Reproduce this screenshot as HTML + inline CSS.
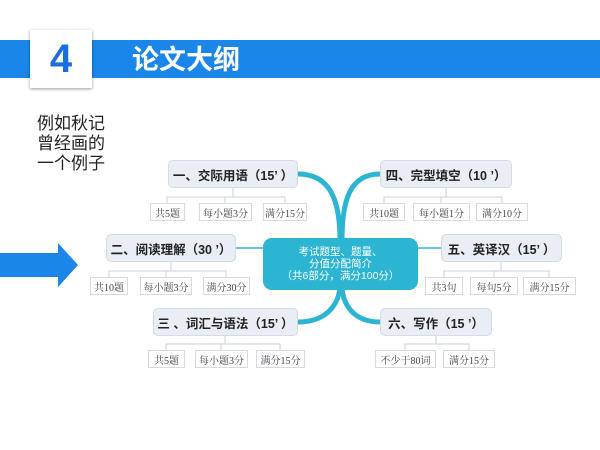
<!DOCTYPE html>
<html><head><meta charset="utf-8"><style>
body{margin:0;width:600px;height:450px;background:#fff;position:relative;overflow:hidden;font-family:"Liberation Sans","Noto Sans CJK SC",sans-serif}
.a{position:absolute}
.n{position:absolute;background:#e9eef4;border:1px solid #d3dbe5;border-radius:5px;box-sizing:border-box;display:flex;align-items:center;justify-content:center;font-weight:bold;font-size:12.5px;color:#222}
.s{position:absolute;background:#fff;border:1px solid #d5dbe2;box-sizing:border-box;display:flex;align-items:center;justify-content:center;font-size:10px;color:#444;font-family:"Liberation Serif","Noto Serif CJK SC",serif;height:18px}
</style></head><body>
<div class="a" style="left:0;top:40px;width:600px;height:38px;background:#1a86e9"></div>
<div class="a" style="left:30px;top:30px;width:62px;height:58px;background:#fff;box-shadow:0 1px 3px rgba(0,0,0,.4);display:flex;align-items:center;justify-content:center;font-size:40px;font-weight:bold;color:#1a6fe0">4</div>
<div class="a" style="left:132px;top:43px;font-size:27px;font-weight:bold;color:#fff;line-height:34px">论文大纲</div>
<div class="a" style="left:37px;top:114px;font-size:17px;line-height:20px;color:#222">例如秋记<br>曾经画的<br>一个例子</div>
<svg class="a" style="left:0;top:0" width="600" height="450">
<polygon points="0,253 58,253 58,243 78,265 58,287 58,277 0,277" fill="#1a86e9"/>
<g fill="none" stroke="#2bb5d3" stroke-width="5">
<path d="M298,174 C330,174 340,200 340,240"/>
<path d="M298,322 C330,322 340,300 340,285"/>
<path d="M380,174 C350,174 342,200 342,240"/>
<path d="M380,322 C350,322 342,300 342,285"/>
</g>
<g stroke="#2bb5d3" stroke-width="1.5"><line x1="236" y1="248" x2="263" y2="248"/><line x1="418" y1="248" x2="441" y2="248"/></g>
<g stroke="#c8d0da" stroke-width="1" fill="none">
<path d="M233,188V197H167V203M233,197H225V203M233,197H285V203"/>
<path d="M171,262V271H109V277M171,271H166V277M171,271H226V277"/>
<path d="M225,336V344H166V350M225,344H221V350M225,344H280V350"/>
<path d="M446,188V197H384V203M446,197H441V203M446,197H502V203"/>
<path d="M501,262V271H444V277M501,271H494V277M501,271H549V277"/>
<path d="M436,336V344H405V350M436,344H469V350"/>
</g>
</svg>
<div class="a" style="left:263px;top:238px;width:155px;height:52px;background:#2bb5d3;border-radius:9px;color:#fff;font-size:10.5px;line-height:12px;text-align:center;display:flex;align-items:center;justify-content:center">考试题型、题量、<br>分值分配简介<br>（共6部分，满分100分）</div>
<div class="n" style="left:168px;top:160px;width:130px;height:28px">一、交际用语（15’ ）</div>
<div class="n" style="left:106px;top:234px;width:130px;height:28px">二、阅读理解（30 ’）</div>
<div class="n" style="left:153px;top:308px;width:145px;height:28px">三 、词汇与语法（15’ ）</div>
<div class="n" style="left:380px;top:160px;width:132px;height:28px">四、完型填空（10 ’）</div>
<div class="n" style="left:441px;top:234px;width:121px;height:28px">五、英译汉（15’ ）</div>
<div class="n" style="left:380px;top:308px;width:112px;height:28px">六、写作（15 ’）</div>
<div class="s" style="left:150px;top:203px;width:35px">共5题</div>
<div class="s" style="left:199px;top:203px;width:53px">每小题3分</div>
<div class="s" style="left:263px;top:203px;width:44px">满分15分</div>
<div class="s" style="left:90px;top:277px;width:38px">共10题</div>
<div class="s" style="left:140px;top:277px;width:52px">每小题3分</div>
<div class="s" style="left:203px;top:277px;width:47px">满分30分</div>
<div class="s" style="left:148px;top:350px;width:37px">共5题</div>
<div class="s" style="left:195px;top:350px;width:53px">每小题3分</div>
<div class="s" style="left:256px;top:350px;width:49px">满分15分</div>
<div class="s" style="left:363px;top:203px;width:42px">共10题</div>
<div class="s" style="left:413px;top:203px;width:57px">每小题1分</div>
<div class="s" style="left:476px;top:203px;width:52px">满分10分</div>
<div class="s" style="left:425px;top:277px;width:38px">共3句</div>
<div class="s" style="left:470px;top:277px;width:48px">每句5分</div>
<div class="s" style="left:523px;top:277px;width:53px">满分15分</div>
<div class="s" style="left:375px;top:350px;width:61px">不少于80词</div>
<div class="s" style="left:443px;top:350px;width:52px">满分15分</div>
</body></html>
